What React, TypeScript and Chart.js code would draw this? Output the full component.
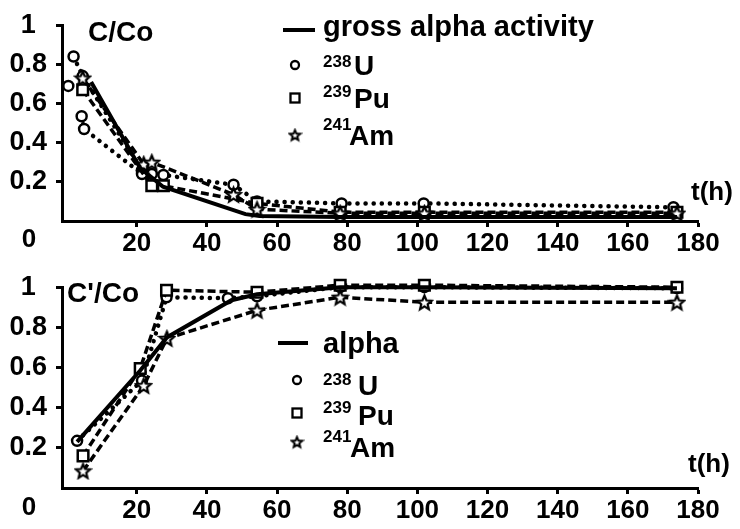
import React, { useEffect, useRef } from "react";
import { Chart, registerables } from "chart.js";

Chart.register(...registerables);

// ---------- axis ticks ----------
const X_TICKS = [20, 40, 60, 80, 100, 120, 140, 160, 180];
const Y_TICKS = [0.2, 0.4, 0.6, 0.8, 1];
const Y_TICK_LABELS = ["0.2", "0.4", "0.6", "0.8", "1"];

// ---------- top panel: C/Co ----------
const TOP_ALPHA_T = [7, 21, 27.5, 51, 55, 78, 102, 174];
const TOP_ALPHA_V = [0.71, 0.27, 0.175, 0.035, 0.025, 0.02, 0.02, 0.02];

const TOP_U_T = [4.3, 5, 21.5, 24.3, 27.6, 47.6, 54.3, 78.4, 101.8, 173];
const TOP_U_V = [0.535, 0.47, 0.24, 0.24, 0.235, 0.185, 0.1, 0.09, 0.09, 0.07];

const TOP_U2_T = [2, 4.6, 21.5];
const TOP_U2_V = [0.84, 0.74, 0.26];

const TOP_U3_T = [0.5];
const TOP_U3_V = [0.69];

const TOP_PU_T = [4.6, 24.3, 27.6, 54.3, 78, 102, 174];
const TOP_PU_V = [0.67, 0.18, 0.18, 0.09, 0.045, 0.045, 0.045];

const TOP_AM_T = [4.6, 22, 24.3, 47.6, 54.3, 78, 102, 174];
const TOP_AM_V = [0.73, 0.29, 0.3, 0.135, 0.06, 0.04, 0.04, 0.04];

// ---------- bottom panel: C'/Co ----------
const BOT_ALPHA_T = [3, 21, 28.6, 47, 54.3, 78, 102, 174];
const BOT_ALPHA_V = [0.23, 0.585, 0.75, 0.935, 0.965, 1.0, 1.0, 0.995];

const BOT_U_T = [3, 21.5, 28.5, 46, 54.3, 78, 102, 174];
const BOT_U_V = [0.235, 0.535, 0.95, 0.945, 0.955, 1.0, 1.0, 0.995];

const BOT_PU_T = [4.7, 21, 28.5, 54.3, 78, 102, 174];
const BOT_PU_V = [0.16, 0.595, 0.985, 0.975, 1.01, 1.01, 1.0];

const BOT_AM_T = [4.7, 22, 28.6, 54.3, 78, 102, 174];
const BOT_AM_V = [0.085, 0.51, 0.745, 0.885, 0.95, 0.925, 0.925];

const FONT = '"Liberation Sans", Arial, sans-serif';

function pts(t: number[], v: number[]) {
  return t.map((x, i) => ({ x, y: v[i] }));
}

function makeStar(R: number, lw: number): HTMLCanvasElement {
  const c = document.createElement("canvas");
  const s = Math.ceil(R * 2 + 4);
  c.width = s;
  c.height = s;
  const ctx = c.getContext("2d")!;
  const cx = s / 2, cy = s / 2 + R * 0.1, r = R * 0.45;
  ctx.beginPath();
  for (let i = 0; i < 10; i++) {
    const rad = i % 2 === 0 ? R : r;
    const a = -Math.PI / 2 + (i * Math.PI) / 5;
    const x = cx + rad * Math.cos(a);
    const y = cy + rad * Math.sin(a);
    if (i === 0) ctx.moveTo(x, y);
    else ctx.lineTo(x, y);
  }
  ctx.closePath();
  ctx.fillStyle = "#fff";
  ctx.fill();
  ctx.lineWidth = lw;
  ctx.strokeStyle = "#000";
  ctx.stroke();
  return c;
}

function solid(t: number[], v: number[]) {
  return {
    data: pts(t, v),
    showLine: true,
    borderColor: "#000",
    borderWidth: 4,
    pointRadius: 0,
    tension: 0,
    clip: false as const,
  };
}

function dottedCircles(t: number[], v: number[], showLine = true) {
  return {
    data: pts(t, v),
    showLine,
    borderColor: "#000",
    borderWidth: 4.5,
    borderDash: [0.1, 8],
    borderCapStyle: "round" as const,
    pointStyle: "circle" as const,
    pointRadius: 5,
    pointBorderWidth: 2.5,
    pointBackgroundColor: "#fff",
    pointBorderColor: "#000",
    tension: 0,
    clip: false as const,
  };
}

function dashedSquares(t: number[], v: number[]) {
  return {
    data: pts(t, v),
    showLine: true,
    borderColor: "#000",
    borderWidth: 3.5,
    borderDash: [8, 4],
    pointStyle: "rect" as const,
    pointRadius: 7.5,
    pointBorderWidth: 2.5,
    pointBackgroundColor: "#fff",
    pointBorderColor: "#000",
    tension: 0,
    clip: false as const,
  };
}

function dashedStars(t: number[], v: number[], star: HTMLCanvasElement) {
  return {
    data: pts(t, v),
    showLine: true,
    borderColor: "#000",
    borderWidth: 3.5,
    borderDash: [8, 4],
    pointStyle: star,
    pointRadius: 8,
    tension: 0,
    clip: false as const,
  };
}

function txt(ctx: CanvasRenderingContext2D, s: string, x: number, y: number, size: number, align: CanvasTextAlign = "left", baseline: CanvasTextBaseline = "alphabetic") {
  ctx.font = `bold ${size}px ${FONT}`;
  ctx.fillStyle = "#000";
  ctx.textAlign = align;
  ctx.textBaseline = baseline;
  ctx.fillText(s, x, y);
}

function legendLine(ctx: CanvasRenderingContext2D, x1: number, x2: number, y: number) {
  ctx.strokeStyle = "#000";
  ctx.lineWidth = 4;
  ctx.setLineDash([]);
  ctx.beginPath();
  ctx.moveTo(x1, y);
  ctx.lineTo(x2, y);
  ctx.stroke();
}

function legendCircle(ctx: CanvasRenderingContext2D, x: number, y: number) {
  ctx.strokeStyle = "#000";
  ctx.lineWidth = 2.3;
  ctx.setLineDash([]);
  ctx.beginPath();
  ctx.arc(x, y, 4, 0, Math.PI * 2);
  ctx.stroke();
}

function legendSquare(ctx: CanvasRenderingContext2D, x: number, y: number) {
  ctx.strokeStyle = "#000";
  ctx.lineWidth = 2.3;
  ctx.setLineDash([]);
  ctx.strokeRect(x - 4.5, y - 4.5, 9, 9);
}

function axisScales(xHeight: number) {
  const grid = {
    display: true,
    drawOnChartArea: false,
    drawTicks: true,
    tickLength: 6,
    tickWidth: 3,
    tickColor: "#000",
  };
  const border = { display: true, color: "#000", width: 3 };
  return {
    x: {
      type: "linear" as const,
      min: -1.3,
      max: 180,
      afterBuildTicks: (s: any) => {
        s.ticks = X_TICKS.map((v) => ({ value: v }));
      },
      afterFit: (s: any) => {
        s.height = xHeight;
      },
      ticks: {
        color: "#000",
        font: { family: FONT, size: 26, weight: "bold" as const },
        padding: 1,
        maxRotation: 0,
        autoSkip: false,
        callback: (v: any) => String(v),
      },
      grid,
      border,
    },
    y: {
      type: "linear" as const,
      min: 0,
      max: 1,
      afterBuildTicks: (s: any) => {
        s.ticks = Y_TICKS.map((v) => ({ value: v }));
      },
      afterFit: (s: any) => {
        s.width = 62;
      },
      ticks: {
        color: "#000",
        font: { family: FONT, size: 27, weight: "bold" as const },
        padding: 9,
        crossAlign: "center" as const,
        autoSkip: false,
        callback: (v: any) => {
          const i = Y_TICKS.indexOf(Number(v));
          return i >= 0 ? Y_TICK_LABELS[i] : "";
        },
      },
      grid,
      border,
    },
  };
}

export default function App() {
  const topRef = useRef<HTMLCanvasElement>(null);
  const botRef = useRef<HTMLCanvasElement>(null);

  useEffect(() => {
    const star = makeStar(7.5, 2.2);
    const smallStar = makeStar(5.5, 2);
    const ss = smallStar.width / 2;

    const topPlugin = {
      id: "topAnnot",
      afterDraw(chart: any) {
        const ctx: CanvasRenderingContext2D = chart.ctx;
        ctx.save();
        txt(ctx, "C/Co", 88, 41, 28);
        legendLine(ctx, 283, 315, 30);
        txt(ctx, "gross alpha activity", 323, 36, 29);
        legendCircle(ctx, 295, 65);
        txt(ctx, "238", 323, 67, 17);
        txt(ctx, "U", 354, 75, 28);
        legendSquare(ctx, 295, 98);
        txt(ctx, "239", 323, 97, 17);
        txt(ctx, "Pu", 354, 108, 28);
        ctx.drawImage(smallStar, 295 - ss, 135 - ss);
        txt(ctx, "241", 323, 130, 17);
        txt(ctx, "Am", 349, 145, 28);
        txt(ctx, "t(h)", 691, 200, 26);
        txt(ctx, "0", 29, 240, 26, "center", "middle");
        ctx.restore();
      },
    };

    const botPlugin = {
      id: "botAnnot",
      afterDraw(chart: any) {
        const ctx: CanvasRenderingContext2D = chart.ctx;
        ctx.save();
        txt(ctx, "C'/Co", 67, 40, 28);
        legendLine(ctx, 278, 308, 81);
        txt(ctx, "alpha", 323, 91, 29);
        legendCircle(ctx, 297, 118);
        txt(ctx, "238", 323, 123, 17);
        txt(ctx, "U", 358, 133, 28);
        legendSquare(ctx, 297, 151);
        txt(ctx, "239", 323, 151, 17);
        txt(ctx, "Pu", 358, 163, 28);
        ctx.drawImage(smallStar, 297 - ss, 180 - ss);
        txt(ctx, "241", 323, 180, 17);
        txt(ctx, "Am", 350, 195, 28);
        txt(ctx, "t(h)", 688, 210, 26);
        txt(ctx, "0", 29, 246, 26, "center", "middle");
        ctx.restore();
      },
    };

    const common = (padTop: number, xHeight: number) => ({
      responsive: false,
      animation: false as const,
      layout: { padding: { top: padTop, right: 42, left: 0, bottom: 0 } },
      plugins: { legend: { display: false }, tooltip: { enabled: false } },
      scales: axisScales(xHeight),
    });

    const topChart = new Chart(topRef.current!, {
      type: "scatter",
      data: {
        datasets: [
          solid(TOP_ALPHA_T, TOP_ALPHA_V),
          dashedStars(TOP_AM_T, TOP_AM_V, star),
          dashedSquares(TOP_PU_T, TOP_PU_V),
          dottedCircles(TOP_U_T, TOP_U_V),
          dottedCircles(TOP_U2_T, TOP_U2_V),
          dottedCircles(TOP_U3_T, TOP_U3_V, false),
        ] as any,
      },
      options: common(22, 41) as any,
      plugins: [topPlugin],
    });

    const botChart = new Chart(botRef.current!, {
      type: "scatter",
      data: {
        datasets: [
          solid(BOT_ALPHA_T, BOT_ALPHA_V),
          dashedStars(BOT_AM_T, BOT_AM_V, star),
          dashedSquares(BOT_PU_T, BOT_PU_V),
          dottedCircles(BOT_U_T, BOT_U_V),
        ] as any,
      },
      options: common(25, 41) as any,
      plugins: [botPlugin],
    });

    return () => {
      topChart.destroy();
      botChart.destroy();
    };
  }, []);

  return (
    <div style={{ position: "absolute", left: 0, top: 0, width: 740, height: 529, background: "#fff" }}>
      <canvas ref={topRef} width={740} height={262} style={{ position: "absolute", left: 0, top: 0, width: 740, height: 262 }} />
      <canvas ref={botRef} width={740} height={267} style={{ position: "absolute", left: 0, top: 262, width: 740, height: 267 }} />
    </div>
  );
}
